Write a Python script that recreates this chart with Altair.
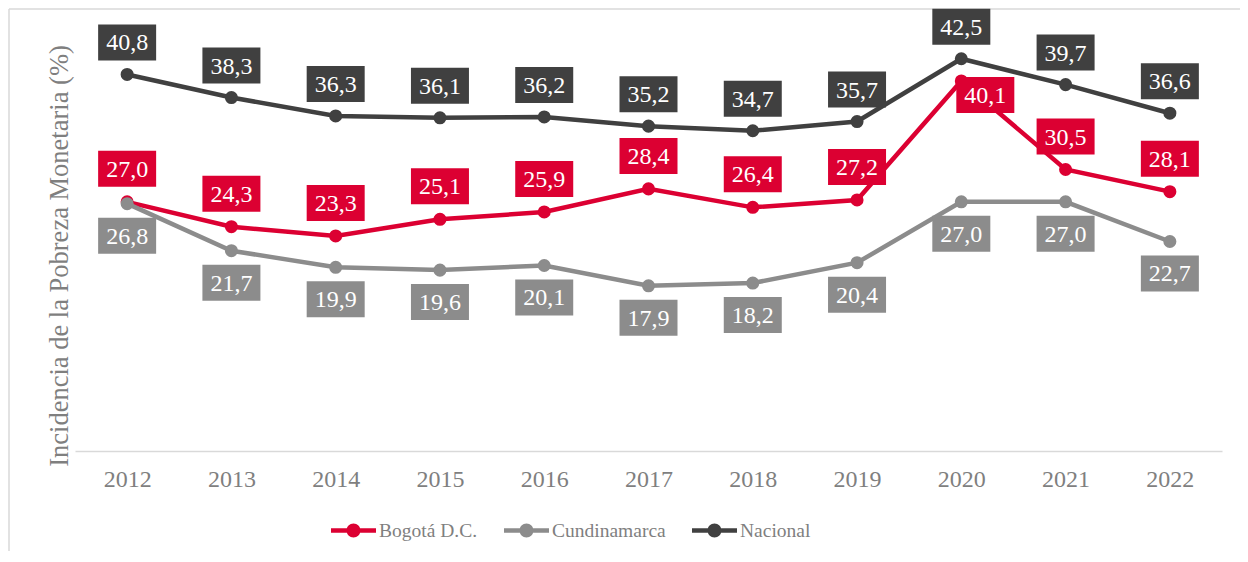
import altair as alt
import pandas as pd

years = [str(y) for y in range(2012, 2023)]
bogota = [27.0, 24.3, 23.3, 25.1, 25.9, 28.4, 26.4, 27.2, 40.1, 30.5, 28.1]
cundinamarca = [26.8, 21.7, 19.9, 19.6, 20.1, 17.9, 18.2, 20.4, 27.0, 27.0, 22.7]
nacional = [40.8, 38.3, 36.3, 36.1, 36.2, 35.2, 34.7, 35.7, 42.5, 39.7, 36.6]
series = ["Bogotá D.C.", "Cundinamarca", "Nacional"]
colors = ["#DC0032", "#8C8C8C", "#404040"]

rows = []
for name, vals in zip(series, [bogota, cundinamarca, nacional]):
    for y, v in zip(years, vals):
        rows.append({"year": y, "serie": name, "valor": v,
                     "label": f"{v:.1f}".replace(".", ",")})
df = pd.DataFrame(rows)

FONT = "Liberation Serif"
GRAY_TXT = "#7F7F7F"
W, H = 1147, 431

xenc = alt.X("year:O", scale=alt.Scale(type="point", padding=0.5),
             axis=alt.Axis(title=None, labelAngle=0, ticks=False, grid=False,
                           domain=True, domainColor="#D9D9D9", domainWidth=1.5,
                           labelFont=FONT, labelFontSize=24, labelColor=GRAY_TXT,
                           labelPadding=16))
yenc = alt.Y("valor:Q", scale=alt.Scale(domain=[0, 46.7], nice=False, zero=True),
             axis=alt.Axis(title="Incidencia de la Pobreza Monetaria (%)",
                           labels=False, ticks=False, domain=False, grid=False,
                           titleFont=FONT, titleFontSize=26.5, titleFontWeight="normal",
                           titleColor=GRAY_TXT, titleAngle=270, titleX=-16,
                           titleY=H / 2 + 20,
                           titleAlign="center", titleBaseline="middle"))
# data-driven domains (alphabetical = series order) for drawn marks
fscale = alt.Scale(range=colors)

base = alt.Chart(df)

lines = base.mark_line(strokeWidth=4.5).encode(
    x=xenc, y=yenc,
    stroke=alt.Stroke("serie:N", scale=fscale, legend=None),
    detail="serie:N",
)

points = base.mark_point(filled=True, size=170, opacity=1, strokeWidth=0).encode(
    x=xenc, y=yenc,
    fill=alt.Fill("serie:N", scale=fscale, legend=None),
)

box_path = "M-1,-0.6207H1V0.6207H-1Z"


def label_layer(filt, dx, dy):
    b = base.transform_filter(filt)
    box = b.mark_point(shape=box_path, size=3364, filled=True, opacity=1,
                       strokeWidth=0, xOffset=dx, yOffset=dy).encode(
        x=xenc, y=yenc, fill=alt.Fill("serie:N", scale=fscale, legend=None))
    txt = b.mark_text(font=FONT, fontSize=24, color="white", dx=dx, dy=dy + 1,
                      baseline="middle", align="center").encode(
        x=xenc, y=yenc, text="label:N")
    return box + txt


lab_nac = label_layer("datum.serie == 'Nacional'", 0, -32)
lab_bog = label_layer("datum.serie == 'Bogotá D.C.' && datum.year != '2020'", 0, -33)
lab_bog20 = label_layer("datum.serie == 'Bogotá D.C.' && datum.year == '2020'", 24, 14)
lab_cun = label_layer("datum.serie == 'Cundinamarca'", 0, 32)

# legend-only layer (draws no marks, carries the legend symbol shape)
legend_path = ("M-1,-0.1H1V0.1H-1Z "
               "M0.31,0A0.31,0.31 0 1,1 -0.31,0A0.31,0.31 0 1,1 0.31,0Z")
legend_layer = base.transform_filter("false").mark_point(
    shape=legend_path, size=2025, filled=True, opacity=1, strokeWidth=0).encode(
    x=xenc, y=yenc,
    color=alt.Color("serie:N", scale=alt.Scale(domain=series, range=colors),
                    legend=alt.Legend(orient="none", legendX=256, legendY=488,
                                      direction="horizontal", title=None,
                                      symbolType=legend_path, symbolSize=2025,
                                      symbolStrokeWidth=0, symbolOpacity=1,
                                      labelFont=FONT, labelFontSize=19.5,
                                      labelColor=GRAY_TXT, labelOffset=3,
                                      columnPadding=26)),
)

one = alt.Chart(pd.DataFrame({"k": [0]}))
frame_left = one.mark_rule(color="#D9D9D9", strokeWidth=1.5).encode(
    x=alt.value(-66), y=alt.value(-11), y2=alt.value(600))
frame_top = one.mark_rule(color="#D9D9D9", strokeWidth=1.5).encode(
    x=alt.value(-66), x2=alt.value(1300), y=alt.value(-11))

chart = alt.layer(
    frame_left, frame_top, lines, points, lab_nac, lab_bog, lab_bog20, lab_cun,
    legend_layer
).properties(
    width=W, height=H,
    background="white",
    autosize=alt.AutoSizeParams(type="none"),
    padding={"left": 67, "top": 12, "right": 18, "bottom": 100},
).configure_view(stroke=None)

chart.save("out.html", embed_options={"renderer": "svg", "actions": False})
